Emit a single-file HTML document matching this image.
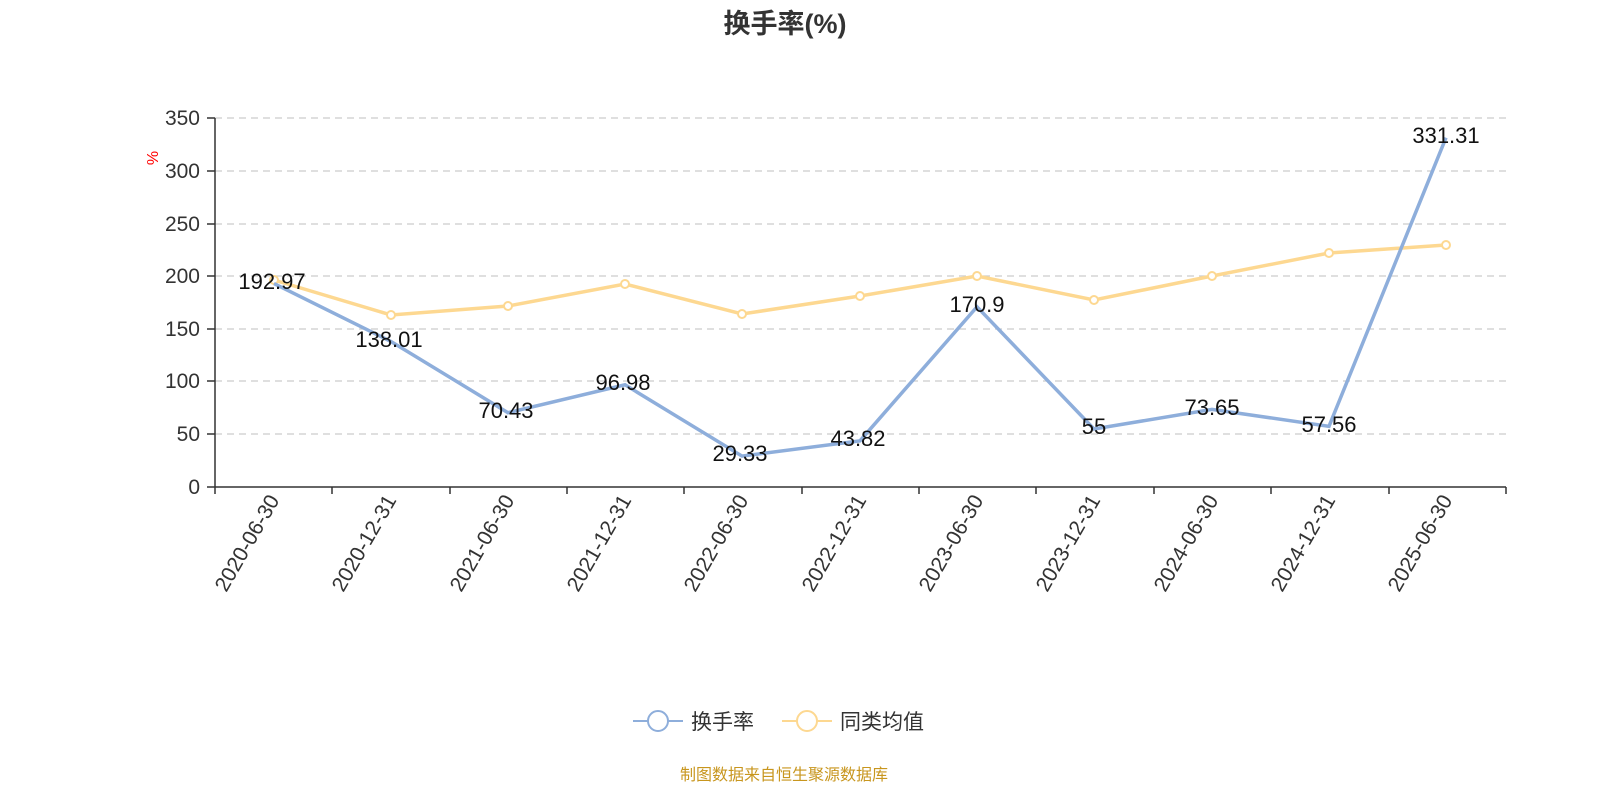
<!DOCTYPE html>
<html><head><meta charset="utf-8"><style>
html,body{margin:0;padding:0;background:#fff;width:1600px;height:800px;overflow:hidden;}
svg{display:block;}
svg text{font-family:"Liberation Sans","Noto Sans CJK SC",sans-serif;}
</style></head><body>
<svg width="1600" height="800" viewBox="0 0 1600 800" xmlns="http://www.w3.org/2000/svg">
<text x="785" y="33" text-anchor="middle" font-size="27" font-weight="bold" fill="#333">换手率(%)</text>
<text x="160" y="160" font-size="16" fill="red" transform="rotate(-90 158 160)" text-anchor="middle">%</text>
<g stroke="#ccc" stroke-width="1.3" stroke-dasharray="7,5">
<line x1="215" x2="1506" y1="118" y2="118"/><line x1="215" x2="1506" y1="171" y2="171"/>
<line x1="215" x2="1506" y1="224" y2="224"/><line x1="215" x2="1506" y1="276" y2="276"/>
<line x1="215" x2="1506" y1="329" y2="329"/><line x1="215" x2="1506" y1="381" y2="381"/>
<line x1="215" x2="1506" y1="434" y2="434"/>
</g>
<g stroke="#333" stroke-width="1.5">
<line x1="215" x2="215" y1="118" y2="487"/><line x1="215" x2="1506" y1="487" y2="487"/>
<line x1="207" x2="215" y1="118" y2="118"/><line x1="207" x2="215" y1="171" y2="171"/>
<line x1="207" x2="215" y1="224" y2="224"/><line x1="207" x2="215" y1="276" y2="276"/>
<line x1="207" x2="215" y1="329" y2="329"/><line x1="207" x2="215" y1="381" y2="381"/>
<line x1="207" x2="215" y1="434" y2="434"/><line x1="207" x2="215" y1="487" y2="487"/>
<line x1="215" x2="215" y1="487" y2="494"/><line x1="332" x2="332" y1="487" y2="494"/>
<line x1="450" x2="450" y1="487" y2="494"/><line x1="567" x2="567" y1="487" y2="494"/>
<line x1="684" x2="684" y1="487" y2="494"/><line x1="802" x2="802" y1="487" y2="494"/>
<line x1="919" x2="919" y1="487" y2="494"/><line x1="1036" x2="1036" y1="487" y2="494"/>
<line x1="1154" x2="1154" y1="487" y2="494"/><line x1="1271" x2="1271" y1="487" y2="494"/>
<line x1="1389" x2="1389" y1="487" y2="494"/><line x1="1506" x2="1506" y1="487" y2="494"/>
</g>
<g font-size="21" fill="#333" text-anchor="end">
<text x="200" y="125">350</text><text x="200" y="178">300</text><text x="200" y="231">250</text>
<text x="200" y="283">200</text><text x="200" y="336">150</text><text x="200" y="388">100</text>
<text x="200" y="441">50</text><text x="200" y="494">0</text>
</g>
<g font-size="21" fill="#333" text-anchor="end">
<text transform="translate(280,500) rotate(-60)">2020-06-30</text>
<text transform="translate(397,500) rotate(-60)">2020-12-31</text>
<text transform="translate(515,500) rotate(-60)">2021-06-30</text>
<text transform="translate(632,500) rotate(-60)">2021-12-31</text>
<text transform="translate(749,500) rotate(-60)">2022-06-30</text>
<text transform="translate(867,500) rotate(-60)">2022-12-31</text>
<text transform="translate(984,500) rotate(-60)">2023-06-30</text>
<text transform="translate(1101,500) rotate(-60)">2023-12-31</text>
<text transform="translate(1219,500) rotate(-60)">2024-06-30</text>
<text transform="translate(1336,500) rotate(-60)">2024-12-31</text>
<text transform="translate(1453,500) rotate(-60)">2025-06-30</text>
</g>
<polyline fill="none" stroke="#fdd891" stroke-width="3.5" points="274,280 391,315 508,306 625,284 742,314 860,296 977,276 1094,300 1212,276 1329,253 1446,245"/>
<g fill="#fff" stroke="#fdd891" stroke-width="2">
<circle cx="274" cy="280" r="4"/><circle cx="391" cy="315" r="4"/><circle cx="508" cy="306" r="4"/>
<circle cx="625" cy="284" r="4"/><circle cx="742" cy="314" r="4"/><circle cx="860" cy="296" r="4"/>
<circle cx="977" cy="276" r="4"/><circle cx="1094" cy="300" r="4"/><circle cx="1212" cy="276" r="4"/>
<circle cx="1329" cy="253" r="4"/><circle cx="1446" cy="245" r="4"/>
</g>
<polyline fill="none" stroke="#8eaedb" stroke-width="3.5" points="274,283.6 391,341.5 508,412.7 625,384.8 742,456.1 860,440.8 977,306.8 1094,429 1212,409.4 1329,426.3 1446,137.7"/>
<g font-size="22" fill="#111" text-anchor="middle">
<text x="272" y="289">192.97</text><text x="389" y="347">138.01</text><text x="506" y="418">70.43</text>
<text x="623" y="390">96.98</text><text x="740" y="461">29.33</text><text x="858" y="446">43.82</text>
<text x="977" y="312">170.9</text><text x="1094" y="434">55</text><text x="1212" y="415">73.65</text>
<text x="1329" y="432">57.56</text><text x="1446" y="143">331.31</text>
</g>
<line x1="633" x2="683" y1="721" y2="721" stroke="#8eaedb" stroke-width="2"/>
<circle cx="658" cy="721" r="10" fill="#fff" stroke="#8eaedb" stroke-width="2"/>
<text x="691" y="729" font-size="21" fill="#333">换手率</text>
<line x1="782" x2="832" y1="721" y2="721" stroke="#fdd891" stroke-width="2"/>
<circle cx="807" cy="721" r="10" fill="#fff" stroke="#fdd891" stroke-width="2"/>
<text x="840" y="729" font-size="21" fill="#333">同类均值</text>
<text x="784" y="780" text-anchor="middle" font-size="16" fill="#c8961e">制图数据来自恒生聚源数据库</text>
</svg>
</body></html>
